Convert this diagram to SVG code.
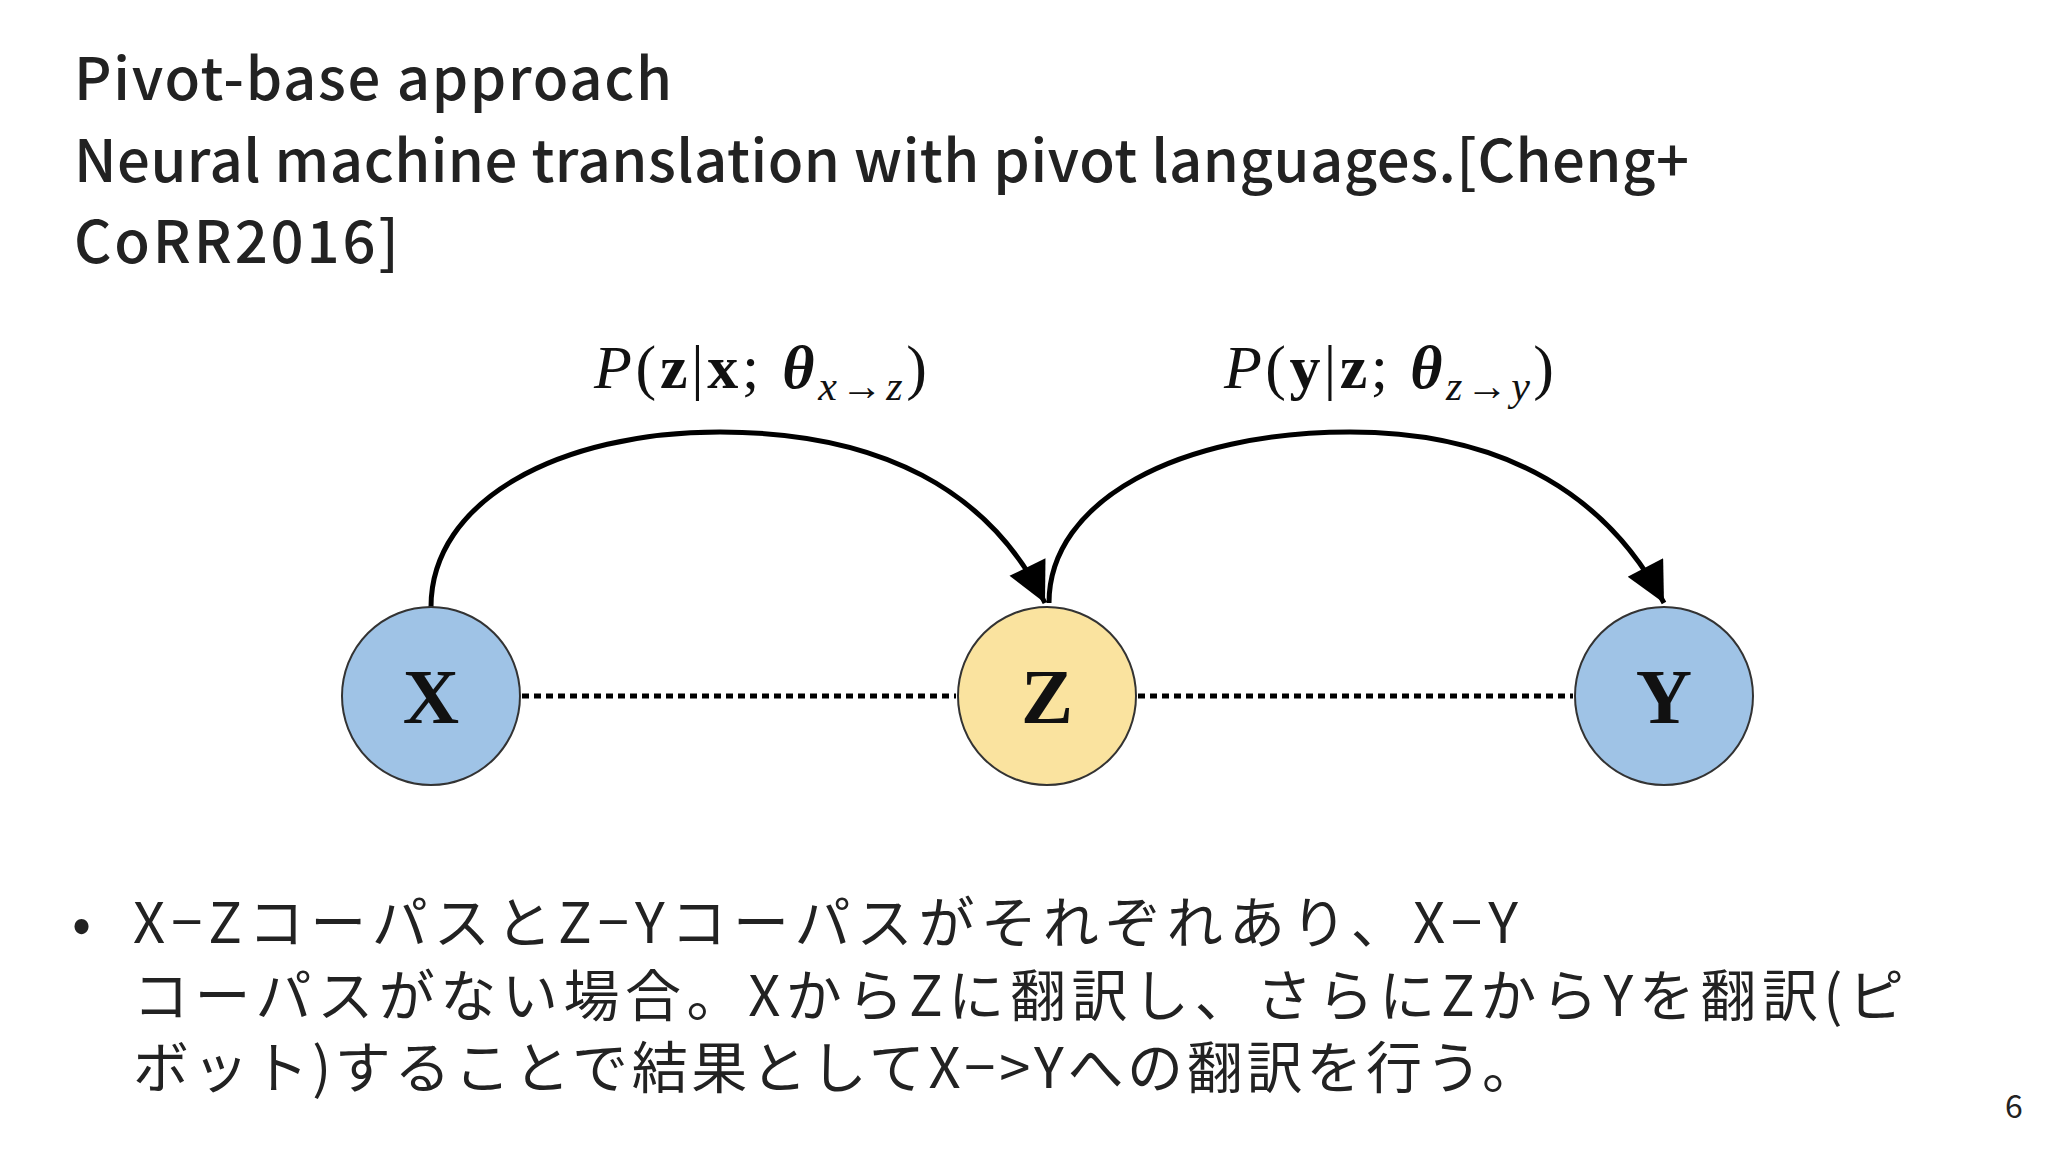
<svg xmlns="http://www.w3.org/2000/svg" width="2048" height="1152" viewBox="0 0 2048 1152">
<style>
.t{font-family:"Noto Sans CJK JP","Noto Sans",sans-serif;fill:#222}
.m{font-family:"Liberation Serif",serif;fill:#111;font-size:62px}
.i{font-style:italic}.b{font-weight:bold}
.n{stroke:#333;stroke-width:2}
.lbl{font-family:"Liberation Serif",serif;font-weight:bold;font-size:78px;fill:#111;text-anchor:middle}
</style>
<defs>
<marker id="a" viewBox="0 0 10 10" refX="10" refY="5" markerWidth="56" markerHeight="40" markerUnits="userSpaceOnUse" orient="auto"><path d="M0,0 L10,5 L0,10 z" fill="#000"/></marker></defs>
<rect width="2048" height="1152" fill="#fff"/>
<g id="title" class="t" font-size="58" font-weight="500">
<text x="74" y="100" textLength="598">Pivot-base approach</text>
<text x="74" y="182" textLength="1615">Neural machine translation with pivot languages.[Cheng+</text>
<text x="74" y="263" textLength="325">CoRR2016]</text>
</g>
<g id="connectors" fill="none" stroke="#000" stroke-width="5">
<line x1="522" y1="696" x2="956" y2="696" stroke-dasharray="7,5" stroke-width="5"/>
<line x1="1138" y1="696" x2="1573" y2="696" stroke-dasharray="7,5" stroke-width="5"/>
<path d="M431,607 C431,500 560,432 720,432 C880,432 990,490 1045,603" marker-end="url(#a)"/>
<path d="M1049,603 C1049,500 1180,432 1350,432 C1510,432 1610,500 1664,603" marker-end="url(#a)"/>
</g>
<g id="node-x"><circle class="n" cx="431" cy="696" r="89" fill="#9fc3e6"/><text class="lbl" x="431" y="723">X</text></g>
<g id="node-z"><circle class="n" cx="1047" cy="696" r="89" fill="#fae39f"/><text class="lbl" x="1047" y="723">Z</text></g>
<g id="node-y"><circle class="n" cx="1664" cy="696" r="89" fill="#9fc3e6"/><text class="lbl" x="1664" y="723">Y</text></g>
<g id="label1"><text class="m" x="594" y="388" textLength="333"><tspan class="i">P</tspan>(<tspan class="b">z</tspan>|<tspan class="b">x</tspan>; <tspan class="b i">θ</tspan><tspan class="i" font-size="42" dy="12">x→z</tspan><tspan dy="-12">)</tspan></text></g>
<g id="label2"><text class="m" x="1224" y="388" textLength="330"><tspan class="i">P</tspan>(<tspan class="b">y</tspan>|<tspan class="b">z</tspan>; <tspan class="b i">θ</tspan><tspan class="i" font-size="42" dy="12">z→y</tspan><tspan dy="-12">)</tspan></text></g>
<g id="bullet" class="t" font-size="56">
<text x="72" y="943">•</text>
<text x="133" y="943" textLength="1385">X−ZコーパスとZ−Yコーパスがそれぞれあり、X−Y</text>
<text x="133" y="1016" textLength="1771">コーパスがない場合。XからZに翻訳し、さらにZからYを翻訳(ピ</text>
<text x="133" y="1088" textLength="1405">ボット)することで結果としてX−&gt;Yへの翻訳を行う。</text>
</g>
<text class="t" x="2005" y="1118" font-size="32" font-family="Liberation Sans">6</text>
</svg>
